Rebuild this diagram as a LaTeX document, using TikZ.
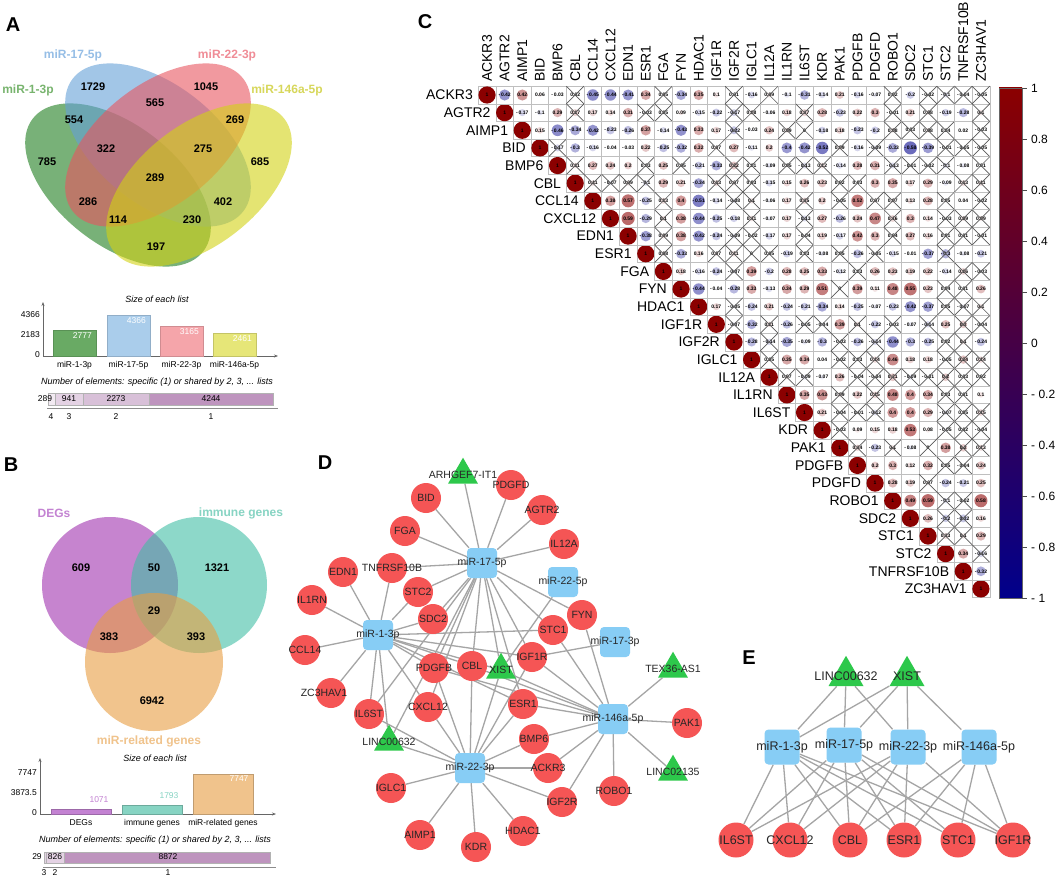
\documentclass[tikz,border=0pt]{standalone}
\usepackage{fontspec}
\setmainfont{Liberation Sans}
\usetikzlibrary{shapes.geometric,backgrounds,arrows.meta}
\definecolor{vgreen}{RGB}{30,125,30}
\definecolor{vblue}{RGB}{100,160,215}
\definecolor{vred}{RGB}{232,85,95}
\definecolor{vyellow}{RGB}{210,210,20}
\definecolor{lgreen}{RGB}{120,180,110}
\definecolor{lblue}{RGB}{150,190,230}
\definecolor{lred}{RGB}{240,140,150}
\definecolor{lyellow}{RGB}{215,215,90}
\definecolor{abar1}{RGB}{105,170,100}
\definecolor{abar2}{RGB}{170,205,235}
\definecolor{abar3}{RGB}{245,165,170}
\definecolor{abar4}{RGB}{230,230,120}
\definecolor{bpurple}{RGB}{160,50,175}
\definecolor{bteal}{RGB}{65,190,165}
\definecolor{borange}{RGB}{232,158,65}
\definecolor{lpurple}{RGB}{195,130,210}
\definecolor{lteal}{RGB}{135,212,195}
\definecolor{lorange}{RGB}{240,195,140}
\definecolor{stk1}{RGB}{242,234,242}
\definecolor{stk2}{RGB}{228,210,228}
\definecolor{stk3}{RGB}{216,192,216}
\definecolor{stk4}{RGB}{190,148,190}
\definecolor{cbred}{RGB}{139,0,0}
\definecolor{cbblue}{RGB}{0,0,139}
\definecolor{nodered}{RGB}{245,85,85}
\definecolor{mirblue}{RGB}{135,205,245}
\definecolor{lncgreen}{RGB}{45,200,75}
\definecolor{edgegray}{RGB}{165,165,165}
\def\corrstrip-#1\relax{#1}
\newcommand\corrrow[2]{%
  \foreach \v/\xo [count=\k] in {#2}{%
    \pgfmathsetmacro\ccx{487+17.64*(#1+\k)}%
    \pgfmathsetmacro\ccy{95+17.64*#1}%
    \pgfmathsetmacro\corrabs{abs(\v)}%
    \pgfmathtruncatemacro\corrpc{round(100*\corrabs)}%
    \pgfmathtruncatemacro\isneg{\v<0}%
    \ifnum\isneg=1 \def\corrcol{cbblue}\else\def\corrcol{cbred}\fi
    \draw[cellgrid] (\ccx-8.82,\ccy-8.82) rectangle (\ccx+8.82,\ccy+8.82);
    \fill[\corrcol!\corrpc!white] (\ccx,\ccy) circle ({8.6*sqrt(\corrabs)});
    \node[corrnum] (c#1-\k) at (\ccx,\ccy) {\ifnum\isneg=1 -\,\expandafter\corrstrip\v\relax\else\v\fi};
    \ifnum\xo=1 \draw[crossline] (\ccx-8.82,\ccy-8.82) -- (\ccx+8.82,\ccy+8.82) (\ccx-8.82,\ccy+8.82) -- (\ccx+8.82,\ccy-8.82);\fi
  }}
\tikzset{
  vnum/.style={font=\fontsize{11}{13}\selectfont\bfseries, inner sep=0},
  vlab/.style={font=\fontsize{12}{14}\selectfont\bfseries, inner sep=0},
  panel/.style={font=\fontsize{20}{24}\selectfont\bfseries, inner sep=0},
  smalltxt/.style={font=\fontsize{8.5}{10}\selectfont, inner sep=0},
  smallit/.style={font=\fontsize{9}{11}\selectfont\itshape, inner sep=0},
  axisline/.style={draw=black!60, line width=0.6pt, -{Stealth[length=4pt,width=3pt]}},
  genelab/.style={font=\fontsize{14}{16}\selectfont, inner sep=1pt},
  cbtick/.style={font=\fontsize{12}{14}\selectfont, inner sep=1pt},
  cellgrid/.style={draw=black!25, line width=0.5pt},
  crossline/.style={draw=black!65, line width=0.7pt},
  corrnum/.style={font=\fontsize{5}{5}\selectfont\bfseries, inner sep=0},
  gene/.style={circle, fill=nodered, minimum size=30pt, inner sep=0},
  mirna/.style={rectangle, rounded corners=4pt, fill=mirblue, minimum size=30pt, inner sep=0},
  lncrna/.style={regular polygon, regular polygon sides=3, fill=lncgreen, minimum size=34.6pt, inner sep=0},
  netlab/.style={font=\fontsize{10.5}{12}\selectfont, text=black!85},
  elab/.style={font=\fontsize{12.5}{14}\selectfont, text=black!85},
  netedge/.style={draw=edgegray, line width=1.3pt}
}
\begin{document}
\begin{tikzpicture}[x=1pt,y=-1pt]
    \useasboundingbox (0,0) rectangle (1059,880);
    \begin{pgfonlayer}{background}
        \fill[white] (0,0) rectangle (1059,880);
    \end{pgfonlayer}

    \node[panel] (pa) at (13,25) {A};
    \begin{scope}[fill opacity=0.6]
        \foreach \cx/\cy/\ang/\c in {118/185/-38/vgreen, 158/145/-38/vblue, 158/145/38/vred, 199/185/38/vyellow}
            \fill[\c, rotate around={\ang:(\cx,\cy)}] (\cx,\cy) ellipse (108 and 60);
    \end{scope}
    \foreach \x/\y/\n in {93/87/1729, 206/87/1045, 155/103/565, 74/120/554, 235/120/269, 47/162/785, 106/149/322, 203/149/275,
        260/162/685, 155/178/289, 88/202/286, 223/202/402, 118/220/114, 192/220/230, 156/247/197}
        \node[vnum] (a\n) at (\x,\y) {\n};
    \node[vlab, text=lgreen] (la1) at (28,90) {miR-1-3p};
    \node[vlab, text=lblue] (la2) at (73,55) {miR-17-5p};
    \node[vlab, text=lred] (la3) at (227,55) {miR-22-3p};
    \node[vlab, text=lyellow] (la4) at (287,90) {miR-146a-5p};

    \node[smallit] (asize) at (157,299) {Size of each list};
    \draw[axisline] (43,356) -- (43,302);
    \draw[axisline] (43,356) -- (278,356);
    \foreach \y/\t [count=\i] in {315/4366, 335/2183, 355/0}
        \node[smalltxt, anchor=east] (ay\i) at (40,\y) {\t};
    \foreach \xa/\top/\c/\v/\lab [count=\i] in {53/330/abar1/2777/miR-1-3p, 107/315/abar2/4366/miR-17-5p, 160/326/abar3/3165/miR-22-3p, 213/333/abar4/2461/miR-146a-5p}
        {
            \draw[\c!85!black, fill=\c] (\xa,356) rectangle (\xa+43,\top);
            \node[smalltxt, text=white, anchor=north east] (av\i) at (\xa+39,\top+2) {\v};
            \node[smalltxt] (ax\i) at (\xa+21.5,365) {\lab};
        }
    \node[smallit] (anum) at (157,382) {Number of elements: specific (1) or shared by 2, 3, ... lists};
    \foreach \xa/\xb/\c/\n/\tx/\k/\kx [count=\i] in {48/55/stk1/289/45/4/51, 55/83/stk2/941/69/3/69, 83/149/stk3/2273/116/2/116, 149/273/stk4/4244/211/1/211}
        {
            \draw[black!30, fill=\c] (\xa,393) rectangle (\xb,405);
            \node[smalltxt] (as\i) at (\tx,399) {\n};
            \node[smalltxt] (ak\i) at (\kx,417) {\k};
        }
    \draw[black!45, line width=0.6pt] (47,408) -- (278,408);

    \node[panel] (pb) at (11,465) {B};
    \begin{scope}[fill opacity=0.6]
        \fill[bpurple] (110,585) circle (68);
        \fill[bteal] (199,585) circle (68);
        \fill[borange] (154,662) circle (69);
    \end{scope}
    \foreach \x/\y/\n in {81/568/609, 154/568/50, 217/568/1321, 154/611/29, 109/637/383, 196/637/393, 152/701/6942}
        \node[vnum] (b\n) at (\x,\y) {\n};
    \node[vlab, text=lpurple] (lb1) at (54,513) {DEGs};
    \node[vlab, text=lteal] (lb2) at (241,513) {immune genes};
    \node[vlab, text=lorange] (lb3) at (149,741) {miR-related genes};

    \node[smallit] (bsize) at (155,758) {Size of each list};
    \draw[axisline] (40,814) -- (40,758);
    \draw[axisline] (40,814) -- (276,814);
    \foreach \y/\t [count=\i] in {773/7747, 793/3873.5, 813/0}
        \node[smalltxt, anchor=east] (by\i) at (37,\y) {\t};
    \foreach \xa/\top/\c/\lab [count=\i] in {51/809/lpurple/DEGs, 122/805/lteal/immune genes, 193/774/lorange/miR-related genes}
        {
            \draw[\c!80!black, fill=\c] (\xa,814) rectangle (\xa+60,\top);
            \node[smalltxt] (bx\i) at (\xa+30,823) {\lab};
        }
    \node[smalltxt, text=lpurple] (bv1) at (99,800) {1071};
    \node[smalltxt, text=lteal] (bv2) at (169,796) {1793};
    \node[smalltxt, text=white] (bv3) at (239,779) {7747};
    \node[smallit] (bnum) at (155,840) {Number of elements: specific (1) or shared by 2, 3, ... lists};
    \draw[black!30, fill=stk2] (44,852) rectangle (46,863);
    \draw[black!30, fill=stk2] (46,852) rectangle (64,863);
    \draw[black!30, fill=stk4] (64,852) rectangle (270,863);
    \foreach \tx/\n/\kx/\k [count=\i] in {37/29/44/3, 55/826/55/2, 168/8872/168/1}
        {
            \node[smalltxt] (bs\i) at (\tx,857) {\n};
            \node[smalltxt] (bk\i) at (\kx,873) {\k};
        }
    \draw[black!45, line width=0.6pt] (43,867) -- (276,867);

    \node[panel] (pc) at (425,22) {C};
    \foreach \g [count=\i from 0] in {ACKR3, AGTR2, AIMP1, BID, BMP6, CBL, CCL14, CXCL12, EDN1, ESR1, FGA, FYN, HDAC1, IGF1R, IGF2R,
        IGLC1, IL12A, IL1RN, IL6ST, KDR, PAK1, PDGFB, PDGFD, ROBO1, SDC2, STC1, STC2, TNFRSF10B, ZC3HAV1}
        {
            \node[genelab, anchor=east] (r\i) at (487+17.64*\i-13,95+17.64*\i) {\g};
            \node[genelab, anchor=west, rotate=90] (h\i) at (487+17.64*\i,83) {\g};
            \draw[cellgrid] (487+17.64*\i-8.82,95+17.64*\i-8.82) rectangle ++(17.64,17.64);
            \fill[cbred] (487+17.64*\i,95+17.64*\i) circle (8.6);
            \node[corrnum] (d\i) at (487+17.64*\i,95+17.64*\i) {1};
        }
    \corrrow{0}{-0.42/0, 0.42/0, 0.06/0, -0.03/0, 0.02/1, -0.45/0, -0.44/0, -0.41/0, 0.34/0, 0.05/1, -0.34/0, 0.35/0, 0.1/0, 0.01/1,
        -0.16/0, 0.09/1, -0.1/0, -0.31/0, -0.14/0, 0.21/0, -0.16/0, -0.07/0, 0.02/1, -0.2/0, -0.02/1, -0.1/1, -0.04/1, -0.05/1}
    \corrrow{1}{-0.17/0, -0.1/0, 0.29/0, 0.17/1, 0.17/0, 0.14/0, 0.31/0, -0.03/1, 0.05/1, 0.09/0, -0.15/0, -0.22/0, -0.17/1, 0.08/1,
        -0.06/0, 0.18/0, 0.17/1, 0.28/0, -0.23/0, 0.22/0, 0.3/0, -0.01/1, 0.21/0, 0.08/1, -0.19/0, -0.28/0, 0.1/1}
    \corrrow{2}{0.15/0, -0.46/0, -0.34/0, -0.42/0, -0.23/0, -0.26/0, 0.37/0, -0.14/0, -0.43/0, 0.33/0, 0.17/0, -0.22/1, -0.03/0,
        0.24/0, 0.09/1, 0/1, -0.18/0, 0.18/0, -0.23/0, -0.2/0, 0.08/1, 0.03/1, 0.08/1, 0.04/1, 0.02/0, -0.03/1}
    \corrrow{3}{-0.17/1, -0.3/0, -0.16/0, -0.04/0, -0.03/0, 0.22/0, -0.25/0, -0.32/0, 0.32/0, 0.07/1, 0.27/0, -0.11/0, 0.2/0, -0.4/0,
        -0.42/0, -0.52/0, 0.09/1, -0.16/0, -0.09/1, -0.33/0, -0.58/0, -0.39/0, -0.01/1, -0.05/1, -0.05/1}
    \corrrow{4}{0.11/1, 0.27/0, 0.24/0, 0.2/0, 0.03/1, 0.25/0, 0.05/1, -0.21/0, -0.33/0, 0.22/1, 0.01/1, -0.09/0, 0.05/1, -0.13/1,
        0.12/1, -0.14/0, 0.28/0, 0.31/0, -0.13/1, -0.01/1, -0.02/1, -0.1/1, -0.08/0, 0.01/1}
    \corrrow{5}{0.11/1, -0.07/1, 0.09/1, -0.1/1, 0.29/0, 0.21/0, -0.34/0, 0.13/1, 0.07/1, 0.03/1, -0.15/0, 0.15/0, 0.26/0, 0.23/0,
        0.02/1, 0.03/1, 0.3/0, 0.35/0, 0.17/0, 0.29/0, -0.09/0, 0.13/1, 0.11/1}
    \corrrow{6}{0.38/0, 0.57/0, -0.25/0, 0.13/1, 0.4/0, -0.51/0, -0.14/0, -0.08/1, 0.1/1, -0.06/0, 0.17/0, 0.15/1, 0.2/0, -0.05/1,
        0.52/0, 0.07/1, 0.07/1, 0.13/0, 0.28/0, 0.05/1, 0.04/0, -0.02/1}
    \corrrow{7}{0.59/0, -0.29/0, 0.1/1, 0.38/0, -0.44/0, -0.25/0, -0.18/0, 0.11/1, -0.07/0, 0.17/0, -0.13/1, 0.27/0, -0.26/0, 0.24/0,
        0.47/0, 0.16/1, 0.3/0, 0.14/0, -0.03/1, 0.09/1, 0.09/1}
    \corrrow{8}{-0.38/0, 0.09/1, 0.38/0, -0.42/0, -0.24/0, -0.09/1, -0.02/1, -0.17/0, 0.17/0, -0.04/1, 0.19/0, -0.17/0, 0.42/0, 0.3/0,
        0.04/1, 0.27/0, 0.16/0, 0.01/1, 0.01/1, -0.01/1}
    \corrrow{9}{0.08/1, -0.33/0, 0.16/0, 0.07/1, 0.11/1, 0/1, 0.05/1, -0.19/0, 0.03/1, -0.08/0, 0.05/1, -0.26/0, -0.05/1, -0.15/0,
        -0.01/0, -0.37/0, -0.3/1, -0.08/0, -0.21/0}
    \corrrow{10}{0.18/0, -0.16/0, -0.24/0, -0.07/1, 0.39/0, -0.2/0, 0.28/0, 0.25/0, 0.33/0, -0.12/0, 0.03/1, 0.26/0, 0.23/0, 0.19/0,
        0.22/0, -0.14/0, 0.16/1, -0.03/1}
    \corrrow{11}{-0.44/0, -0.04/0, -0.28/0, 0.33/0, -0.13/0, 0.34/0, 0.29/0, 0.51/0, 0/1, 0.39/0, 0.11/0, 0.48/0, 0.55/0, 0.23/0,
        0.04/1, 0.01/1, 0.26/0}
    \corrrow{12}{0.17/0, -0.05/1, -0.24/0, 0.21/0, -0.24/0, -0.21/0, -0.34/0, 0.14/0, -0.25/0, -0.07/0, -0.23/0, -0.42/0, -0.37/0,
        0.05/1, -0.07/1, 0.1/1}
    \corrrow{13}{-0.07/1, -0.32/0, 0.11/1, -0.26/0, -0.05/1, -0.04/1, 0.39/0, 0.1/1, -0.22/0, -0.03/1, -0.07/0, -0.14/1, 0.25/0,
        0.2/1, -0.04/1}
    \corrrow{14}{-0.28/0, -0.14/1, -0.35/0, -0.09/0, -0.3/0, -0.03/1, -0.26/0, -0.14/1, -0.44/0, -0.3/0, -0.25/0, 0.02/1, 0.1/1, -0.24/0}
    \corrrow{15}{0.05/1, 0.35/0, 0.34/0, 0.04/0, -0.02/1, 0.03/1, 0.14/1, 0.46/0, 0.18/0, 0.18/0, -0.05/1, 0.24/1, 0.14/1}
    \corrrow{16}{0.07/1, -0.09/1, -0.07/0, 0.26/0, -0.04/1, -0.04/1, 0.21/1, -0.09/1, -0.01/1, 0.2/1, 0.03/1, 0.02/1}
    \corrrow{17}{0.35/0, 0.43/0, 0.09/1, 0.22/0, 0.15/1, 0.48/0, 0.4/0, 0.34/0, 0.03/1, 0.01/1, 0.1/0}
    \corrrow{18}{0.21/0, -0.04/1, -0.01/1, -0.12/1, 0.4/0, 0.4/0, 0.29/0, -0.07/1, 0.05/1, 0.15/1}
    \corrrow{19}{-0.03/1, 0.09/0, 0.15/0, 0.18/0, 0.53/0, 0.08/0, -0.05/1, 0.02/1, -0.04/1}
    \corrrow{20}{0.14/1, -0.23/0, 0.1/1, -0.08/0, 0/1, 0.38/0, 0.2/1, 0.13/1}
    \corrrow{21}{0.2/0, 0.3/0, 0.12/0, 0.32/0, 0.05/1, -0.04/1, 0.24/0}
    \corrrow{22}{0.28/0, 0.19/0, 0.07/1, -0.24/0, -0.21/0, 0.25/0}
    \corrrow{23}{0.49/0, 0.59/0, -0.1/1, -0.02/1, 0.58/0}
    \corrrow{24}{0.26/0, -0.2/1, -0.22/1, 0.16/0}
    \corrrow{25}{0.13/1, 0.1/1, 0.29/0}
    \corrrow{26}{0.34/0, -0.16/1}
    \corrrow{27}{-0.32/0}
    \shade[top color=cbred, middle color=white, bottom color=cbblue] (999,88) rectangle (1022,598);
    \draw[black!60, line width=0.6pt] (999,88) rectangle (1022,598);
    \foreach \t/\lab [count=\i] in {1/1, 0.8/0.8, 0.6/0.6, 0.4/0.4, 0.2/0.2, 0/0, -0.2/- 0.2, -0.4/- 0.4, -0.6/- 0.6, -0.8/- 0.8, -1/- 1}
        {
            \draw[black!70, line width=0.6pt] (1022,343-255*\t) -- (1027,343-255*\t);
            \node[cbtick, anchor=west] (cb\i) at (1030,343-255*\t) {\lab};
        }

    \node[panel] (pd) at (325,463) {D};
    \foreach \n/\x/\y/\t in {m17/482/563/miR-17-5p, m1/378/635/miR-1-3p, m225/563/582/miR-22-5p, m173/615/642/miR-17-3p,
        m22/470/768/miR-22-3p, m146/613/719/miR-146a-5p}
        \node[mirna, label={[netlab]center:\t}] (\n) at (\x,\y) {};
    \foreach \n/\x/\y/\t in {bid/426/498/BID, pdgfd/511/485/PDGFD, agtr2/542/510/AGTR2, fga/405/531/FGA, il12a/564/544/IL12A,
        edn1/343/572/EDN1, tnf/392/568/TNFRSF10B, stc2/418/592/STC2, sdc2/433/619/SDC2, fyn/582/615/FYN, stc1/553/630/STC1,
        igf1r/532/657/IGF1R, cbl/472/666/CBL, pdgfb/434/668/PDGFB, esr1/523/704/ESR1, cxcl12/428/707/CXCL12, il6st/369/714/IL6ST,
        bmp6/534/739/BMP6, ackr3/548/768/ACKR3, iglc1/391/788/IGLC1, igf2r/562/802/IGF2R, robo1/614/791/ROBO1, pak1/687/723/PAK1,
        aimp1/420/835/AIMP1, kdr/476/847/KDR, hdac1/523/831/HDAC1, il1rn/312/600/IL1RN, ccl14/305/650/CCL14}
        \node[gene, label={[netlab]center:\t}] (\n) at (\x,\y) {};
    \node[gene, label={[netlab, xshift=-7pt]center:ZC3HAV1}] (zc3) at (331,693) {};
    \foreach \n/\x/\y/\t in {arh/463/475/ARHGEF7-IT1, xist/501/670/XIST, linc632/389/742/LINC00632, tex/673/669/TEX36-AS1,
        linc2135/673/772/LINC02135}
        \node[lncrna, label={[netlab]center:\t}] (\n) at (\x,\y) {};
    \begin{pgfonlayer}{background}
        \foreach \a/\b in {m17/arh, m17/bid, m17/pdgfd, m17/agtr2, m17/fga, m17/il12a, m17/tnf, m17/stc2, m17/fyn, m17/stc1,
            m17/igf1r, m17/xist, m17/cbl, m17/pdgfb, m17/cxcl12, m17/il6st, m17/linc632, m17/esr1, m17/sdc2,
            m1/edn1, m1/il1rn, m1/ccl14, m1/zc3, m1/tnf, m1/stc2, m1/il6st, m1/linc632, m1/cxcl12, m1/pdgfb, m1/cbl, m1/xist,
            m1/igf1r, m1/stc1, m1/esr1, m1/sdc2,
            m22/linc632, m22/il6st, m22/cxcl12, m22/pdgfb, m22/cbl, m22/xist, m22/esr1, m22/bmp6, m22/ackr3, m22/igf2r,
            m22/hdac1, m22/kdr, m22/aimp1, m22/iglc1, m22/igf1r,
            m146/xist, m146/cbl, m146/esr1, m146/stc1, m146/igf1r, m146/pdgfb, m146/tex, m146/linc2135, m146/pak1, m146/robo1,
            m146/igf2r, m146/ackr3, m146/bmp6, m146/fyn, m225/xist, m173/igf1r}
            \draw[netedge] (\a) -- (\b);
    \end{pgfonlayer}

    \node[panel] (pe) at (749,658) {E};
    \foreach \n/\x/\y/\t in {em1/782/747/miR-1-3p, em17/844/745/miR-17-5p, em22/908/747/miR-22-3p, em146/979/747/miR-146a-5p}
        \node[mirna, minimum size=35pt, label={[elab]center:\t}] (\n) at (\x,\y) {};
    \foreach \n/\x/\y/\t in {eil6st/736/840/IL6ST, ecxcl/790/840/CXCL12, ecbl/850/840/CBL, eesr1/904/840/ESR1, estc1/958/840/STC1,
        eigf1r/1013/840/IGF1R}
        \node[gene, minimum size=35pt, label={[elab]center:\t}] (\n) at (\x,\y) {};
    \foreach \n/\x/\y/\t in {elinc/846/676/LINC00632, exist/907/676/XIST}
        \node[lncrna, minimum size=40.4pt, label={[elab]center:\t}] (\n) at (\x,\y) {};
    \begin{pgfonlayer}{background}
        \foreach \a/\b in {em1/elinc, em1/exist, em1/eil6st, em1/ecxcl, em1/ecbl, em1/eesr1, em1/estc1, em1/eigf1r,
            em17/elinc, em17/exist, em17/eil6st, em17/ecxcl, em17/ecbl, em17/eesr1, em17/estc1, em17/eigf1r,
            em22/elinc, em22/exist, em22/eil6st, em22/ecxcl, em22/ecbl, em22/eesr1, em22/eigf1r,
            em146/exist, em146/ecbl, em146/eesr1, em146/estc1, em146/eigf1r}
            \draw[netedge] (\a) -- (\b);
    \end{pgfonlayer}
\end{tikzpicture}
\end{document}
